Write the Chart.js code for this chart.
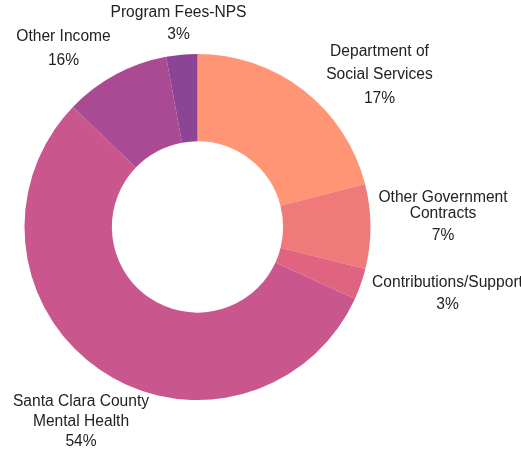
<!DOCTYPE html>
<html>
<head>
<meta charset="UTF-8">
<script src="https://cdn.jsdelivr.net/npm/chart.js@4.4.1/dist/chart.umd.min.js"></script>
<style>
  html, body { margin: 0; padding: 0; background: #fff; }
  #wrap { width: 521px; height: 452px; }
</style>
</head>
<body>
<div id="wrap"><canvas id="myChart"></canvas></div>
<script>
// categories and slice sizes
const categories = ['Department of Social Services', 'Other Government Contracts', 'Contributions/Support',
  'Santa Clara County Mental Health', 'Other Income', 'Program Fees-NPS'];
const shares = [21.0, 7.9, 2.9, 55.4, 9.9, 2.9];
// percent text printed next to each slice
const pctLabels = ['17%', '7%', '3%', '54%', '16%', '3%'];
// how each category name is broken into lines
const nameLines = [
  ['Department of', 'Social Services'],
  ['Other Government', 'Contracts'],
  ['Contributions/Support'],
  ['Santa Clara County', 'Mental Health'],
  ['Other Income'],
  ['Program Fees-NPS']
];
const colors = ['#FF9574', '#F07A7A', '#E0637F', '#C9568C', '#AA4A92', '#8C4494'];

// label placement relative to doughnut centre (x centre, y of each line)
const labelPlace = [
  { x: 182, ys: [-175, -152, -128] },
  { x: 245.5, ys: [-29, -13, 9] },
  { x: 250, ys: [56, 78] },
  { x: -116.5, ys: [175, 195, 215] },
  { x: -134, ys: [-190, -166] },
  { x: -19, ys: [-214, -192] }
];

const outLabels = {
  id: 'outLabels',
  afterDraw(chart) {
    const ctx = chart.ctx;
    const arc = chart.getDatasetMeta(0).data[0];
    const cx = arc.x, cy = arc.y;
    ctx.save();
    ctx.font = '15.6px "Liberation Sans", Arial, sans-serif';
    ctx.fillStyle = '#222';
    ctx.textAlign = 'center';
    ctx.textBaseline = 'middle';
    categories.forEach((c, i) => {
      const lines = nameLines[i].concat([pctLabels[i]]);
      const p = labelPlace[i];
      lines.forEach((t, j) => ctx.fillText(t, cx + p.x, cy + p.ys[j]));
    });
    ctx.restore();
  }
};

new Chart(document.getElementById('myChart'), {
  type: 'doughnut',
  data: {
    labels: categories,
    datasets: [{
      data: shares,
      backgroundColor: colors,
      borderWidth: 0
    }]
  },
  options: {
    responsive: true,
    maintainAspectRatio: false,
    animation: false,
    cutout: '49.5%',
    layout: { padding: { left: 24, right: 150, top: 54, bottom: 52 } },
    plugins: {
      legend: { display: false },
      tooltip: { enabled: false }
    }
  },
  plugins: [outLabels]
});
</script>
</body>
</html>
